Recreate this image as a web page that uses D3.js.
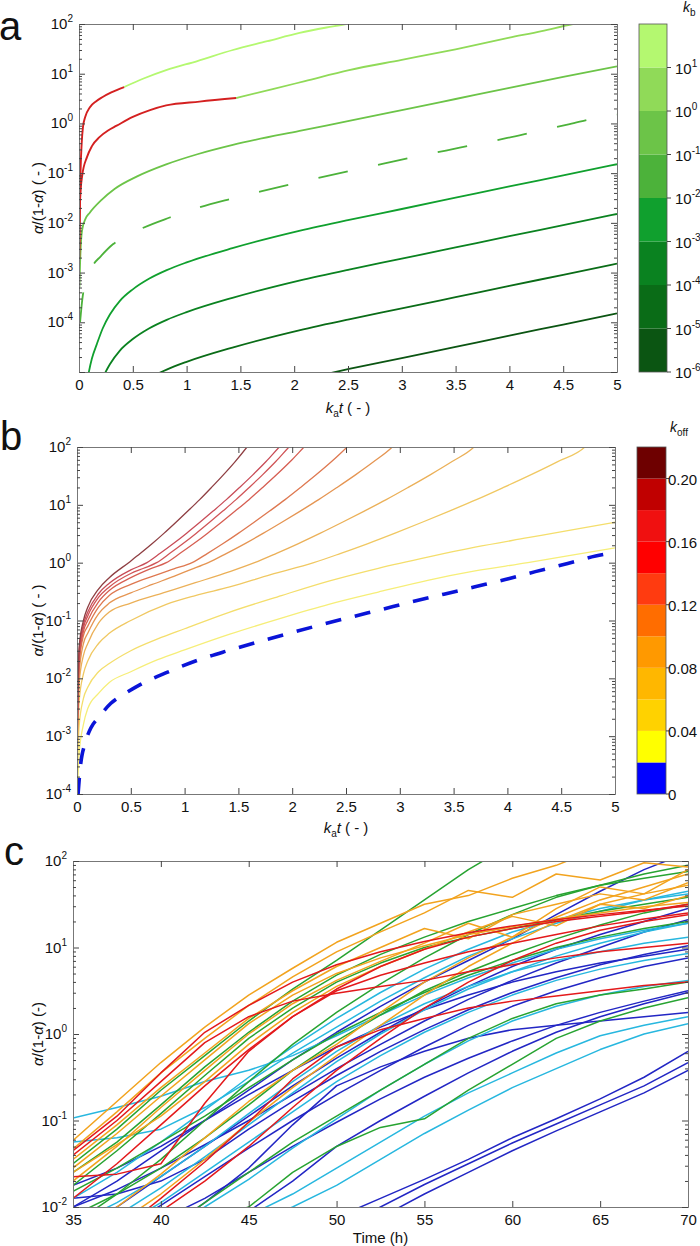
<!DOCTYPE html>
<html>
<head>
<meta charset="utf-8">
<script src="https://cdn.jsdelivr.net/npm/d3@7"></script>
<style>
  body { margin: 0; background: #fff; }
  svg { font-family: "Liberation Sans", Arial, sans-serif; }
</style>
</head>
<body>
<svg id="chart" width="700" height="1246"></svg>
<script>
// ---------------- panel a : curves for different k_b ----------------
// [k_a t, alpha/(1-alpha)]
var curveKb1 = [[0.003,0.002],[0.008,0.02],[0.015,0.12],[0.025,0.4],[0.037,0.85],[0.06,1.4],[0.1,2.1],[0.16,2.8],[0.22,3.4],[0.3,4.2],[0.42,5.4],[0.6,8.0],[0.81,11.8],[1.1,18],[1.43,30],[1.75,45],[2.05,66],[2.3,85],[2.48,100],[2.55,108]];
var curveKb2 = [[0.003,0.003],[0.01,0.029],[0.03,0.09],[0.074,0.21],[0.12,0.35],[0.19,0.53],[0.27,0.72],[0.35,0.9],[0.5,1.35],[0.66,1.85],[0.81,2.3],[1.12,2.75],[1.46,3.24],[1.8,4.9],[2.1,7.1],[2.51,11.8],[3.0,19],[3.5,31],[4.0,53],[4.3,72],[4.59,100],[4.65,106]];
var curveKb3 = [[0.004,0.0005],[0.01,0.0015],[0.028,0.007],[0.06,0.012],[0.1,0.016],[0.21,0.029],[0.33,0.048],[0.54,0.086],[0.81,0.15],[1.1,0.24],[1.43,0.37],[2.05,0.71],[2.51,1.12],[3.0,1.85],[3.5,3.1],[4.0,5.2],[4.5,8.6],[5.0,14]];
var curveKb4 = [[0.01,0.0001],[0.03,0.00028],[0.08,0.0008],[0.13,0.0014],[0.2,0.0021],[0.315,0.0037],[0.45,0.0055],[0.583,0.0077],[0.843,0.0128],[1.12,0.0205],[1.4,0.03],[1.69,0.043],[1.97,0.06],[2.51,0.11],[2.83,0.155],[3.11,0.21],[3.41,0.285],[3.69,0.38],[3.98,0.51],[4.26,0.7],[4.56,0.97],[4.82,1.3],[5.0,1.5]];
var curveKb5 = [[0.05,0.000003],[0.083,0.000008],[0.12,0.0000186],[0.167,0.000037],[0.22,0.000075],[0.287,0.000143],[0.38,0.00027],[0.5,0.00046],[0.65,0.00075],[0.815,0.00112],[1.0,0.0016],[1.426,0.0031],[2.046,0.0069],[2.51,0.0115],[3.0,0.019],[3.5,0.032],[4.0,0.054],[4.5,0.09],[5.0,0.151]];
var curveKb6 = [[0.167,0.0000037],[0.22,0.0000075],[0.287,0.0000143],[0.38,0.000027],[0.5,0.000046],[0.65,0.000075],[0.815,0.000112],[1.0,0.00016],[1.426,0.00031],[2.046,0.00069],[2.51,0.00115],[3.0,0.0019],[3.5,0.0032],[4.0,0.0054],[4.5,0.009],[5.0,0.0151]];
var curveKb7 = [[0.5,0.0000046],[0.65,0.0000075],[0.815,0.0000112],[1.0,0.000016],[1.426,0.000031],[2.046,0.000069],[2.51,0.000115],[3.0,0.00019],[3.5,0.00032],[4.0,0.00054],[4.5,0.0009],[5.0,0.00151]];
var curveKb8 = [[2.046,0.0000069],[2.51,0.0000115],[3.0,0.000019],[3.5,0.000032],[4.0,0.000054],[4.5,0.00009],[5.0,0.000151]];
var redEndKb1 = 0.42, redEndKb2 = 1.46;   // red part of the two upper curves
var kbColors = ["#0b5512","#0a6c17","#0a8220","#10a02e","#4cb23a","#6cc448","#90da58","#b4f870"]; // bottom -> top
var kbTickExp = [-6, -5, -4, -3, -2, -1, 0, 1];

// ---------------- panel b : curves for different k_off ----------------
var koff002 = [[0.003,0.0001],[0.02,0.0005],[0.06,0.0016],[0.1,0.003],[0.2,0.0055],[0.3,0.0085],[0.5,0.013],[0.75,0.021],[1.0,0.031],[1.42,0.058],[1.9,0.11],[2.34,0.19],[2.8,0.31],[3.27,0.5],[3.7,0.72],[4.19,1.0],[4.6,1.35],[5.0,1.8]];
var koff004 = [[0.003,0.0002],[0.02,0.0015],[0.06,0.0045],[0.1,0.007],[0.2,0.013],[0.3,0.018],[0.5,0.03],[0.75,0.048],[1.0,0.072],[1.42,0.14],[1.9,0.27],[2.34,0.48],[2.8,0.8],[3.27,1.26],[3.7,1.85],[4.19,2.7],[4.6,3.7],[5.0,5.0]];
var koff006 = [[0.003,0.0004],[0.02,0.004],[0.06,0.012],[0.1,0.02],[0.2,0.04],[0.3,0.06],[0.5,0.1],[0.83,0.19],[1.1,0.27],[1.42,0.38],[1.8,0.62],[2.2,1.0],[2.452,1.45],[2.704,2.14],[2.956,3.24],[3.208,5.0],[3.46,7.8],[3.712,12.3],[3.964,20],[4.216,33],[4.468,56],[4.72,100],[4.77,125]];
var koff008 = [[0.003,0.0006],[0.02,0.008],[0.06,0.025],[0.1,0.04],[0.2,0.09],[0.3,0.14],[0.5,0.2],[0.8,0.3],[1.1,0.45],[1.42,0.7],[1.65,1.0],[1.854,1.45],[2.058,2.14],[2.262,3.24],[2.466,5.0],[2.67,7.8],[2.874,12.3],[3.078,20],[3.282,33],[3.486,56],[3.69,100],[3.74,125]];
var koff010 = [[0.003,0.0008],[0.02,0.012],[0.06,0.04],[0.1,0.06],[0.2,0.13],[0.3,0.2],[0.5,0.3],[0.7,0.42],[0.9,0.58],[1.05,0.75],[1.22,1.0],[1.391,1.45],[1.562,2.14],[1.733,3.24],[1.904,5.0],[2.075,7.8],[2.246,12.3],[2.417,20],[2.588,33],[2.759,56],[2.93,100],[2.98,125]];
var koff012 = [[0.003,0.001],[0.02,0.017],[0.06,0.055],[0.1,0.08],[0.2,0.17],[0.3,0.27],[0.5,0.42],[0.7,0.58],[0.9,0.78],[1.07,1.0],[1.214,1.45],[1.358,2.14],[1.502,3.24],[1.646,5.0],[1.79,7.8],[1.934,12.3],[2.078,20],[2.222,33],[2.366,56],[2.51,100],[2.56,125]];
var koff014 = [[0.003,0.0012],[0.02,0.02],[0.06,0.065],[0.1,0.1],[0.2,0.21],[0.3,0.33],[0.5,0.55],[0.68,0.78],[0.83,1.0],[0.958,1.45],[1.086,2.14],[1.214,3.24],[1.342,5.0],[1.47,7.8],[1.598,12.3],[1.726,20],[1.854,33],[1.982,56],[2.11,100],[2.16,125]];
var koff016 = [[0.003,0.0014],[0.02,0.025],[0.06,0.075],[0.1,0.12],[0.2,0.25],[0.3,0.38],[0.5,0.65],[0.62,0.8],[0.74,1.0],[0.863,1.45],[0.986,2.14],[1.109,3.24],[1.232,5.0],[1.355,7.8],[1.478,12.3],[1.601,20],[1.724,33],[1.847,56],[1.97,100],[2.02,125]];
var koff018 = [[0.003,0.0016],[0.02,0.03],[0.06,0.085],[0.1,0.14],[0.2,0.29],[0.3,0.44],[0.5,0.75],[0.65,1.0],[0.773,1.45],[0.896,2.14],[1.019,3.24],[1.142,5.0],[1.265,7.8],[1.388,12.3],[1.511,20],[1.634,33],[1.757,56],[1.88,100],[1.93,125]];
var koff020 = [[0.003,0.002],[0.02,0.035],[0.06,0.1],[0.1,0.17],[0.2,0.35],[0.3,0.55],[0.48,1.0],[0.59,1.45],[0.7,2.14],[0.81,3.24],[0.92,5.0],[1.03,7.8],[1.14,12.3],[1.25,20],[1.36,33],[1.47,56],[1.58,100],[1.62,125]];
var koffLineColors = ["#f6ee78","#f4de6c","#f0c862","#ebb058","#e59552","#de7850","#d65e52","#d05457","#c84c57","#8e3e42"];
var koffSegColors = ["#0000ff","#ffff00","#ffd200","#ffb700","#ff9900","#ff6d00","#ff3b10","#ff0000","#f01010","#c00000","#6e0000"]; // bottom -> top
var koffTicks = [0, 0.04, 0.08, 0.12, 0.16, 0.20];

// ---------------- panel c : measured curves (log10 of alpha/(1-alpha)) ----------------
var cTimes = [35, 37.5, 40, 42.5, 45, 47.5, 50, 52.5, 55, 57.5, 60, 62.5, 65, 67.5, 70];
var cOrange = [
  [-1.23,-0.78,-0.33,0.08,0.45,0.76,1.06,1.28,1.50,1.60,1.80,1.95,2.15,2.30,2.40],
  [-1.33,-0.90,-0.45,-0.05,0.33,0.66,0.95,1.18,1.40,1.66,1.58,1.85,1.78,1.98,1.93],
  [-1.45,-1.05,-0.62,-0.22,0.18,0.50,0.78,1.00,1.22,1.10,1.38,1.50,1.62,1.55,1.75],
  [-1.55,-1.15,-0.72,-0.30,0.12,0.45,0.70,0.88,1.02,1.15,1.24,1.33,1.40,1.47,1.52],
  [-1.70,-1.30,-0.85,-0.42,0.00,0.35,0.62,0.84,1.05,1.28,1.12,1.45,1.70,1.62,1.90],
  [-2.30,-2.00,-1.62,-1.20,-0.78,-0.42,-0.12,0.25,0.60,0.88,1.12,1.35,1.55,1.70,1.85],
  [-2.50,-2.20,-1.85,-1.45,-1.02,-0.62,-0.25,0.10,0.45,0.78,1.05,1.30,1.50,1.62,1.72],
  [-1.60,-1.28,-0.95,-0.55,-0.12,0.25,0.55,0.78,0.98,1.18,1.36,1.25,1.50,1.45,1.60]
];
var cRed = [
  [-1.35,-0.95,-0.45,0.02,0.33,0.60,0.80,0.95,1.07,1.17,1.25,1.32,1.38,1.43,1.48],
  [-1.40,-1.00,-0.55,-0.10,0.20,0.38,0.47,0.55,0.62,0.72,0.80,0.88,0.95,1.00,1.05],
  [-1.65,-1.62,-1.50,-0.80,-0.20,0.20,0.50,0.68,0.82,0.95,1.05,1.15,1.25,1.33,1.40],
  [-2.60,-2.30,-1.90,-1.48,-1.02,-0.52,-0.15,0.05,0.18,0.30,0.38,0.44,0.50,0.56,0.60],
  [-2.60,-2.35,-2.05,-1.70,-1.30,-0.85,-0.42,-0.05,0.30,0.60,0.85,1.05,1.20,1.30,1.38],
  [-1.90,-1.50,-1.05,-0.60,-0.18,0.20,0.52,0.78,0.98,1.12,1.22,1.30,1.36,1.42,1.50]
];
var cGreen = [
  [-1.50,-1.10,-0.65,-0.25,0.15,0.52,0.85,1.20,1.55,1.90,2.20,2.40,2.50,2.50,2.50],
  [-1.60,-1.25,-0.82,-0.38,0.02,0.38,0.68,0.92,1.12,1.30,1.45,1.60,1.72,1.80,1.88],
  [-1.75,-1.35,-0.92,-0.48,-0.05,0.30,0.60,0.82,1.00,1.12,1.22,1.32,1.42,1.50,1.58],
  [-2.10,-1.85,-1.55,-1.20,-0.82,-0.42,-0.08,0.22,0.50,0.72,0.92,1.10,1.26,1.40,1.50],
  [-2.90,-2.60,-2.30,-1.95,-1.60,-1.25,-0.95,-0.65,-0.35,-0.05,0.18,0.35,0.45,0.52,0.60],
  [-3.00,-2.70,-2.40,-2.15,-2.00,-1.60,-1.30,-1.08,-0.98,-0.65,-0.35,-0.05,0.15,0.30,0.42],
  [-1.82,-1.55,-1.25,-0.95,-0.62,-0.30,0.00,0.25,0.48,0.68,0.85,1.00,1.12,1.22,1.30],
  [-2.20,-1.85,-1.45,-1.00,-0.55,-0.12,0.25,0.58,0.88,1.15,1.38,1.58,1.72,1.85,1.95]
];
var cCyan = [
  [-0.97,-0.85,-0.72,-0.55,-0.42,-0.25,-0.02,0.22,0.45,0.65,0.82,0.98,1.10,1.20,1.28],
  [-1.25,-1.20,-1.10,-0.85,-0.55,-0.22,0.08,0.38,0.65,0.90,1.10,1.28,1.42,1.55,1.65],
  [-2.20,-1.95,-1.65,-1.30,-0.92,-0.55,-0.20,0.10,0.35,0.55,0.72,0.85,0.95,1.05,1.12],
  [-2.50,-2.25,-1.95,-1.60,-1.25,-0.90,-0.55,-0.25,0.02,0.25,0.45,0.62,0.75,0.85,0.93],
  [-2.80,-2.55,-2.30,-2.00,-1.68,-1.32,-0.98,-0.65,-0.35,-0.08,0.15,0.32,0.45,0.55,0.62],
  [-3.20,-2.90,-2.60,-2.30,-2.10,-1.85,-1.55,-1.25,-0.95,-0.68,-0.45,-0.22,-0.02,0.10,0.20],
  [-3.30,-3.00,-2.70,-2.40,-2.20,-2.00,-1.75,-1.45,-1.15,-0.88,-0.62,-0.40,-0.18,0.00,0.12],
  [-1.90,-1.60,-1.25,-0.88,-0.50,-0.15,0.18,0.48,0.75,0.98,1.18,1.32,1.45,1.55,1.62],
  [-2.40,-2.10,-1.78,-1.42,-1.05,-0.68,-0.32,0.00,0.28,0.52,0.72,0.90,1.05,1.18,1.28]
];
var cBlue = [
  [-4.00,-3.70,-3.40,-3.10,-2.80,-2.45,-2.12,-1.90,-1.68,-1.45,-1.20,-0.98,-0.75,-0.50,-0.20],
  [-4.00,-3.70,-3.40,-3.10,-2.85,-2.55,-2.25,-2.00,-1.74,-1.50,-1.26,-1.04,-0.82,-0.60,-0.33],
  [-4.20,-3.90,-3.60,-3.30,-3.00,-2.70,-2.40,-2.12,-1.85,-1.60,-1.35,-1.12,-0.90,-0.68,-0.42],
  [-2.60,-2.30,-1.98,-1.65,-1.32,-1.00,-0.70,-0.42,-0.15,0.10,0.32,0.50,0.65,0.78,0.88],
  [-2.30,-2.00,-1.65,-1.30,-0.95,-0.60,-0.28,0.02,0.30,0.55,0.78,0.98,1.15,1.30,1.45],
  [-1.75,-1.55,-1.30,-1.00,-0.70,-0.42,-0.15,0.08,0.28,0.45,0.60,0.72,0.82,0.90,0.98],
  [-2.00,-1.80,-1.55,-1.28,-1.00,-0.70,-0.40,-0.12,0.15,0.40,0.62,0.82,1.00,1.18,1.32],
  [-2.90,-2.60,-2.30,-1.95,-1.55,-1.05,-0.60,-0.38,-0.20,-0.05,0.05,0.10,0.15,0.20,0.25],
  [-3.30,-3.00,-2.70,-2.40,-2.05,-1.70,-1.30,-1.00,-0.72,-0.45,-0.20,0.02,0.20,0.35,0.48],
  [-2.00,-1.70,-1.35,-1.00,-0.65,-0.30,0.02,0.32,0.60,0.85,1.10,1.38,1.65,1.90,2.10],
  [-1.90,-1.85,-1.70,-1.45,-1.10,-0.78,-0.48,-0.20,0.05,0.28,0.48,0.65,0.80,0.92,1.02],
  [-2.60,-2.40,-2.15,-1.90,-1.60,-1.30,-1.02,-0.75,-0.50,-0.28,-0.08,0.10,0.25,0.38,0.50]
];
var cColors = {orange: "#f2a31e", red: "#e3191b", green: "#27a331", cyan: "#27b7df", blue: "#2226c4"};
var cTicksX = [35, 40, 45, 50, 55, 60, 65, 70];

// ---------------- layout ----------------
var pa = {x0: 79, x1: 617, y0: 24, y1: 372};
var pb = {x0: 77, x1: 615, y0: 447, y1: 794};
var pc = {x0: 73, x1: 688, y0: 861, y1: 1207};

var svg = d3.select("#chart");

function supText(g, x, y, base, exp, anchor) {
  var t = g.append("text").attr("x", x).attr("y", y)
    .attr("text-anchor", anchor).attr("font-size", 15).attr("fill", "#111");
  t.append("tspan").text(base);
  t.append("tspan").attr("font-size", 10).attr("dy", -7).text(exp);
}

function styleAxis(g) {
  g.select(".domain").attr("stroke", "#777");
  g.selectAll(".tick line").attr("stroke", "#444");
  g.selectAll(".tick text").attr("font-size", 15).attr("fill", "#111")
    .attr("font-family", "Liberation Sans, Arial, sans-serif");
}

// frame with inward ticks, log y axis
function drawFrame(p, x, y, xTicks, xFmt, decMin, decMax, labelMin) {
  var g = svg.append("g");
  var major = d3.range(decMin, decMax + 1).map(function(e) { return Math.pow(10, e); });
  var minor = [];
  d3.range(decMin, decMax).forEach(function(e) {
    for (var k = 2; k <= 9; k++) minor.push(k * Math.pow(10, e));
  });

  g.append("g").attr("transform", "translate(0," + p.y1 + ")")
    .call(d3.axisBottom(x).tickValues(xTicks).tickSizeInner(-6).tickSizeOuter(0).tickPadding(7).tickFormat(xFmt))
    .call(styleAxis);
  g.append("g").attr("transform", "translate(0," + p.y0 + ")")
    .call(d3.axisTop(x).tickValues(xTicks).tickSizeInner(-6).tickSizeOuter(0).tickFormat(""))
    .call(styleAxis);

  [[p.x0, d3.axisLeft], [p.x1, d3.axisRight]].forEach(function(s) {
    g.append("g").attr("transform", "translate(" + s[0] + ",0)")
      .call(s[1](y).tickValues(major).tickSizeInner(-6).tickSizeOuter(0).tickFormat(""))
      .call(styleAxis);
    g.append("g").attr("transform", "translate(" + s[0] + ",0)")
      .call(s[1](y).tickValues(minor).tickSizeInner(-3).tickSizeOuter(0).tickFormat(""))
      .call(styleAxis);
  });

  major.forEach(function(v, i) {
    var e = decMin + i;
    if (e < labelMin) return;
    supText(g, p.x0 - 6, y(v) + 5, "10", String(e), "end");
  });
}

function yLabel(cx, cy, dashText) {
  var t = svg.append("text").attr("transform", "translate(" + cx + "," + cy + ") rotate(-90)")
    .attr("text-anchor", "middle").attr("font-size", 15).attr("fill", "#111");
  t.append("tspan").attr("font-style", "italic").text("\u03b1");
  t.append("tspan").text("/(1-");
  t.append("tspan").attr("font-style", "italic").text("\u03b1");
  t.append("tspan").text(") " + dashText);
}

function kaLabel(cx, y) {
  var t = svg.append("text").attr("x", cx).attr("y", y)
    .attr("text-anchor", "middle").attr("font-size", 15).attr("fill", "#111");
  t.append("tspan").attr("font-style", "italic").text("k");
  t.append("tspan").attr("font-size", 10).attr("dy", 4).text("a");
  t.append("tspan").attr("font-style", "italic").attr("dy", -4).text("t");
  t.append("tspan").text(" ( - )");
}

function clip(id, p) {
  svg.append("clipPath").attr("id", id).append("rect")
    .attr("x", p.x0).attr("y", p.y0).attr("width", p.x1 - p.x0).attr("height", p.y1 - p.y0);
}

function panelLetter(txt, x, y) {
  svg.append("text").attr("x", x).attr("y", y).attr("font-size", 40).attr("fill", "#111").text(txt);
}

var fmtX = function(d) { return d3.format("~g")(d); };
var halfTicks = d3.range(0, 5.01, 0.5);

// ================= panel a =================
var aX = d3.scaleLinear().domain([0, 5]).range([pa.x0, pa.x1]);
var aY = d3.scaleLog().domain([1e-5, 1e2]).range([pa.y1, pa.y0]);
clip("clipA", pa);
var aLine = d3.line().x(function(d) { return aX(d[0]); }).y(function(d) { return aY(d[1]); }).curve(d3.curveMonotoneX);

var aCurves = [
  {data: curveKb8, color: kbColors[0]},
  {data: curveKb7, color: kbColors[1]},
  {data: curveKb6, color: kbColors[2]},
  {data: curveKb5, color: kbColors[3]},
  {data: curveKb4, color: kbColors[4], dash: "30,31"},
  {data: curveKb3, color: kbColors[5]},
  {data: curveKb2, color: kbColors[6], redEnd: redEndKb2},
  {data: curveKb1, color: kbColors[7], redEnd: redEndKb1}
];
var gA = svg.append("g").attr("clip-path", "url(#clipA)");
aCurves.forEach(function(c) {
  var green = c.redEnd ? c.data.filter(function(d) { return d[0] >= c.redEnd; }) : c.data;
  gA.append("path").attr("d", aLine(green)).attr("fill", "none")
    .attr("stroke", c.color).attr("stroke-width", 1.8)
    .attr("stroke-dasharray", c.dash || null);
  if (c.redEnd) {
    var red = c.data.filter(function(d) { return d[0] <= c.redEnd; });
    gA.append("path").attr("d", aLine(red)).attr("fill", "none")
      .attr("stroke", "#d42020").attr("stroke-width", 1.9);
  }
});
drawFrame(pa, aX, aY, halfTicks, fmtX, -5, 2, -4);
yLabel(43, (pa.y0 + pa.y1) / 2, "( - )");
kaLabel((pa.x0 + pa.x1) / 2, 413);
panelLetter("a", -1, 40);

// colorbar a
var cbA = {x0: 639, x1: 667};
var cbAY = d3.scaleLog().domain([1e-6, 1e2]).range([pa.y1, pa.y0]);
var gCbA = svg.append("g");
kbColors.forEach(function(col, i) {
  var lo = Math.pow(10, -6 + i), hi = Math.pow(10, -5 + i);
  gCbA.append("rect").attr("x", cbA.x0).attr("y", cbAY(hi)).attr("width", cbA.x1 - cbA.x0)
    .attr("height", cbAY(lo) - cbAY(hi)).attr("fill", col);
});
gCbA.append("rect").attr("x", cbA.x0).attr("y", pa.y0).attr("width", cbA.x1 - cbA.x0)
  .attr("height", pa.y1 - pa.y0).attr("fill", "none").attr("stroke", "#555").attr("stroke-width", 0.8);
kbTickExp.forEach(function(e) {
  var yy = cbAY(Math.pow(10, e));
  gCbA.append("line").attr("x1", cbA.x1).attr("x2", cbA.x1 + 4).attr("y1", yy).attr("y2", yy).attr("stroke", "#444");
  supText(gCbA, 675, yy + 6, "10", String(e), "start");
});
var kbT = svg.append("text").attr("x", 683).attr("y", 12).attr("font-size", 14).attr("fill", "#111");
kbT.append("tspan").attr("font-style", "italic").text("k");
kbT.append("tspan").attr("font-size", 10).attr("dy", 4).text("b");

// ================= panel b =================
var bX = d3.scaleLinear().domain([0, 5]).range([pb.x0, pb.x1]);
var bY = d3.scaleLog().domain([1e-4, 1e2]).range([pb.y1, pb.y0]);
clip("clipB", pb);
var bLine = d3.line().x(function(d) { return bX(d[0]); }).y(function(d) { return bY(d[1]); }).curve(d3.curveMonotoneX);
var koffCurves = [koff002, koff004, koff006, koff008, koff010, koff012, koff014, koff016, koff018, koff020];
var gB = svg.append("g").attr("clip-path", "url(#clipB)");
koffCurves.forEach(function(c, i) {
  gB.append("path").attr("d", bLine(c)).attr("fill", "none")
    .attr("stroke", koffLineColors[i]).attr("stroke-width", 1.3);
});
gB.append("path").attr("d", bLine(curveKb4)).attr("fill", "none")
  .attr("stroke", "#0a14d8").attr("stroke-width", 3.6).attr("stroke-dasharray", "16,14");
drawFrame(pb, bX, bY, halfTicks, fmtX, -4, 2, -4);
yLabel(43, (pb.y0 + pb.y1) / 2, "( - )");
kaLabel((pb.x0 + pb.x1) / 2, 833);
panelLetter("b", 0, 450);

// colorbar b
var cbB = {x0: 637, x1: 666};
var cbBY = d3.scaleLinear().domain([0, 0.22]).range([pb.y1, pb.y0]);
var gCbB = svg.append("g");
koffSegColors.forEach(function(col, i) {
  gCbB.append("rect").attr("x", cbB.x0).attr("y", cbBY((i + 1) * 0.02)).attr("width", cbB.x1 - cbB.x0)
    .attr("height", cbBY(i * 0.02) - cbBY((i + 1) * 0.02)).attr("fill", col);
});
gCbB.append("rect").attr("x", cbB.x0).attr("y", pb.y0).attr("width", cbB.x1 - cbB.x0)
  .attr("height", pb.y1 - pb.y0).attr("fill", "none").attr("stroke", "#555").attr("stroke-width", 0.8);
koffTicks.forEach(function(v) {
  var yy = cbBY(v);
  gCbB.append("line").attr("x1", cbB.x1).attr("x2", cbB.x1 + 3).attr("y1", yy).attr("y2", yy).attr("stroke", "#444");
  gCbB.append("text").attr("x", 668).attr("y", yy + 6).attr("font-size", 15).attr("fill", "#111")
    .text(v === 0 ? "0" : d3.format(".2f")(v));
});
var koT = svg.append("text").attr("x", 670).attr("y", 432).attr("font-size", 14).attr("fill", "#111");
koT.append("tspan").attr("font-style", "italic").text("k");
koT.append("tspan").attr("font-size", 10).attr("dy", 4).text("off");

// ================= panel c =================
var cX = d3.scaleLinear().domain([35, 70]).range([pc.x0, pc.x1]);
var cY = d3.scaleLog().domain([1e-2, 1e2]).range([pc.y1, pc.y0]);
clip("clipC", pc);
var cLine = d3.line()
  .x(function(d, i) { return cX(cTimes[i]); })
  .y(function(d) { return cY(Math.pow(10, d)); });
var gC = svg.append("g").attr("clip-path", "url(#clipC)");
[["blue", cBlue], ["cyan", cCyan], ["green", cGreen], ["orange", cOrange], ["red", cRed]].forEach(function(grp) {
  grp[1].forEach(function(series) {
    gC.append("path").attr("d", cLine(series)).attr("fill", "none")
      .attr("stroke", cColors[grp[0]]).attr("stroke-width", 1.5).attr("stroke-linejoin", "round");
  });
});
drawFrame(pc, cX, cY, cTicksX, fmtX, -2, 2, -2);
yLabel(43, (pc.y0 + pc.y1) / 2, "(-)");
svg.append("text").attr("x", (pc.x0 + pc.x1) / 2).attr("y", 1243).attr("text-anchor", "middle")
  .attr("font-size", 15).attr("fill", "#111").text("Time (h)");
panelLetter("c", 4, 865);
</script>
</body>
</html>
